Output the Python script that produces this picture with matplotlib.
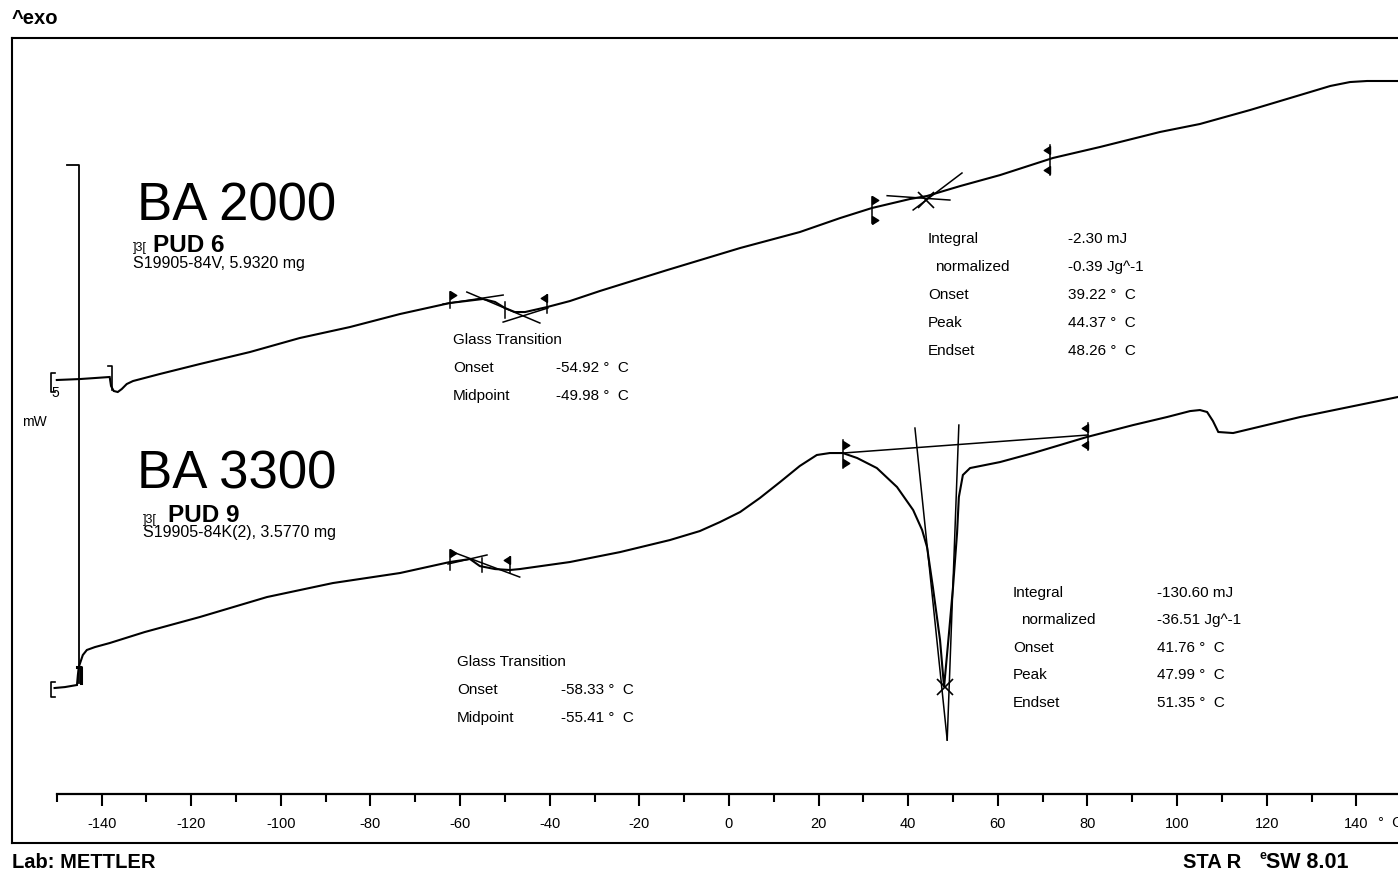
import matplotlib
matplotlib.use('Agg')
import matplotlib.pyplot as plt
from matplotlib import font_manager

plt.rcParams['font.family'] = ['Liberation Sans', 'DejaVu Sans']
plt.rcParams['axes.unicode_minus'] = False

_names = {f.name for f in font_manager.fontManager.ttflist}
NARROW = ['Liberation Sans Narrow', 'Liberation Sans'] if 'Liberation Sans Narrow' in _names else ['Liberation Sans', 'DejaVu Sans']

# ---------------- data ----------------
# Curve 1: BA 2000 / PUD 6  (temperature in degC, heat flow in mW)
t1 = [-150.0, -144.9, -141.5, -138.2, -137.9, -137.3, -136.4, -135.5, -134.4, -133.0,
      -127.0, -118.1, -106.9, -95.8, -84.6, -73.4, -62.3, -54.9, -52.2, -50.0,
      -47.8, -45.5, -40.6, -35.5, -28.8, -13.8, 2.5, 15.8, 24.8, 31.9,
      40.4, 44.2, 47.1, 51.6, 60.5, 72.3, 82.8, 96.2, 105.1, 116.3,
      127.5, 134.2, 138.6, 142.4, 149.3]
hf1 = [2.925, 2.934, 2.944, 2.954, 2.867, 2.819, 2.809, 2.838, 2.886, 2.915,
       2.983, 3.079, 3.195, 3.330, 3.436, 3.562, 3.668, 3.707, 3.678, 3.620,
       3.581, 3.581, 3.629, 3.687, 3.784, 3.986, 4.199, 4.353, 4.488, 4.585,
       4.672, 4.701, 4.739, 4.797, 4.903, 5.068, 5.174, 5.319, 5.396, 5.531,
       5.676, 5.763, 5.801, 5.811, 5.811]

# Curve 2: BA 3300 / PUD 9
t2 = [-150.5, -148.2, -145.5, -145.3, -145.1, -144.2, -143.3, -141.5, -138.2, -130.4,
      -118.1, -103.1, -88.4, -73.4, -62.3, -57.8, -55.6, -52.2, -48.9, -46.7,
      -35.5, -24.3, -13.2, -6.5, -2.0, 2.5, 6.9, 11.4, 15.8, 19.6,
      22.5, 25.4, 28.6, 33.0, 37.5, 41.1, 43.1, 44.2, 45.5, 47.1,
      48.0, 49.1, 50.0, 50.9, 51.3, 52.2, 53.8, 60.5, 67.9, 79.9,
      90.2, 97.8, 102.9, 105.1, 106.7, 108.0, 109.2, 112.5, 127.5, 149.3]
hf2 = [-0.048, -0.039, -0.019, 0.077, 0.154, 0.270, 0.319, 0.347, 0.386, 0.492,
       0.637, 0.830, 0.965, 1.062, 1.168, 1.197, 1.129, 1.100, 1.091, 1.100,
       1.168, 1.264, 1.380, 1.467, 1.554, 1.651, 1.786, 1.940, 2.095, 2.201,
       2.220, 2.220, 2.172, 2.075, 1.892, 1.670, 1.477, 1.313, 0.927, 0.415,
       -0.039, 0.483, 0.927, 1.448, 1.795, 2.008, 2.075, 2.133, 2.220, 2.375,
       2.490, 2.568, 2.625, 2.635, 2.616, 2.529, 2.423, 2.413, 2.568, 2.761]

tick_major = [-140, -120, -100, -80, -60, -40, -20, 0, 20, 40, 60, 80, 100, 120, 140]
tick_labels = ['-140', '-120', '-100', '-80', '-60', '-40', '-20', '0', '20', '40',
               '60', '80', '100', '120', '140']
tick_minor = [-150, -130, -110, -90, -70, -50, -30, -10, 10, 30, 50, 70, 90, 110, 130]

# evaluation results
tg1_labels = ['Glass Transition', 'Onset', 'Midpoint']
tg1_values = ['', '-54.92 °  C', '-49.98 °  C']
tg2_labels = ['Glass Transition', 'Onset', 'Midpoint']
tg2_values = ['', '-58.33 °  C', '-55.41 °  C']
pk1_labels = ['Integral', 'normalized', 'Onset', 'Peak', 'Endset']
pk1_values = ['-2.30 mJ', '-0.39 Jg^-1', '39.22 °  C', '44.37 °  C', '48.26 °  C']
pk2_labels = ['Integral', 'normalized', 'Onset', 'Peak', 'Endset']
pk2_values = ['-130.60 mJ', '-36.51 Jg^-1', '41.76 °  C', '47.99 °  C', '51.35 °  C']

# ---------------- figure ----------------
W, H = 1398, 875
fig = plt.figure(figsize=(W / 100, H / 100), dpi=100)
fig.patch.set_facecolor('white')

XLIM = (-160.0, 149.3)
ax_l, ax_b = 12 / W, (H - 843) / H
ax_w, ax_h = 1 - ax_l, (843 - 38) / H
ax = fig.add_axes([ax_l, ax_b, ax_w, ax_h])
ax.set_xlim(*XLIM)
ax.set_ylim(-1.544, 6.226)
ax.set_xticks([])
ax.set_yticks([])
for s in ['left', 'top', 'bottom']:
    ax.spines[s].set_linewidth(1.5)
ax.spines['right'].set_visible(False)

# temperature axis inside the frame
ax2 = fig.add_axes([ax_l, (H - 794) / H, ax_w, 0.0001])
ax2.patch.set_visible(False)
for s in ['left', 'top', 'right']:
    ax2.spines[s].set_visible(False)
ax2.set_xlim(*XLIM)
ax2.spines['bottom'].set_linewidth(1.6)
ax2.spines['bottom'].set_bounds(-150, 149.3)
ax2.set_yticks([])
ax2.set_xticks(tick_major)
ax2.set_xticklabels(tick_labels)
ax2.set_xticks(tick_minor, minor=True)
ax2.tick_params(axis='x', which='major', direction='out', length=8.5, width=1.5,
                pad=8, labelsize=10.5)
ax2.tick_params(axis='x', which='minor', direction='out', length=5.5, width=1.5)
fig.text(1378 / W, 1 - 823 / H, '°  C', fontsize=10.5, ha='left', va='center')

LW = 1.5
ax.plot(t1, hf1, color='black', lw=LW, solid_joinstyle='miter')
ax.plot(t2, hf2, color='black', lw=LW, solid_joinstyle='miter')

# scale bar (5 mW)
ax.plot([-147.8, -145.1, -145.1], [5.0, 5.0, 0.0], color='black', lw=1.3)
ax.text(-150.4, 2.80, '5', fontsize=10, ha='center', va='center')
ax.text(-154.9, 2.52, 'mW', fontsize=10, ha='center', va='center')

# start/end brackets
def bracket(x, y0, y1, arm, lw=1.2):
    ax.plot([x + arm, x, x, x + arm], [y1, y1, y0, y0], color='black', lw=lw)

bracket(-151.3, 2.81, 2.99, 0.9)
ax.plot([-138.6, -137.7, -137.7], [3.06, 3.06, 2.83], color='black', lw=1.2)
bracket(-151.3, -0.135, 0.01, 0.9)
ax.plot([-145.5, -144.6, -144.6], [0.154, 0.154, 0.0], color='black', lw=2.2)

# evaluation constructions
ALW = 1.1
flag_r = [(0, -1), (1.6, 0), (0, 1), (0, -1)]
flag_l = [(0, -1), (-1.6, 0), (0, 1), (0, -1)]

def vtick(x, y0, y1):
    ax.plot([x, x], [y0, y1], color='black', lw=ALW)

def flag(x, y, right=True):
    ax.plot([x], [y], marker=flag_r if right else flag_l, markersize=9,
            color='black', linestyle='none')

def seg(xs, ys):
    ax.plot(xs, ys, color='black', lw=ALW)

# curve 1 glass transition
seg([-63.8, -50.4], [3.658, 3.745])
seg([-58.5, -42.2], [3.774, 3.475])
seg([-50.4, -40.4], [3.484, 3.620])
vtick(-62.3, 3.620, 3.774); flag(-62.3, 3.745, True)
vtick(-50.0, 3.523, 3.678)
vtick(-40.6, 3.571, 3.745); flag(-40.6, 3.716, False)

# curve 1 peak
vtick(31.9, 4.440, 4.691); flag(31.9, 4.662, True); flag(31.9, 4.469, True)
vtick(71.7, 4.903, 5.193); flag(71.7, 5.145, False); flag(71.7, 4.952, False)
seg([35.3, 49.3], [4.704, 4.662])
seg([41.1, 52.0], [4.566, 4.923])
ax.plot([44.0], [4.662], marker='x', markersize=11, mew=1.2, color='black')

# curve 2 glass transition
seg([-61.6, -46.7], [1.264, 1.023])
seg([-62.7, -54.0], [1.149, 1.236])
vtick(-62.3, 1.091, 1.284); flag(-62.3, 1.255, True)
vtick(-55.1, 1.071, 1.207)
vtick(-48.9, 1.062, 1.216); flag(-48.9, 1.187, False)

# curve 2 peak
seg([25.4, 80.1], [2.220, 2.394])
seg([41.5, 48.7], [2.461, -0.550])
seg([51.3, 48.7], [2.490, -0.550])
ax.plot([48.2], [-0.039], marker='x', markersize=12, mew=1.2, color='black')
vtick(25.4, 2.075, 2.346); flag(25.4, 2.297, True); flag(25.4, 2.124, True)
vtick(80.1, 2.249, 2.510); flag(80.1, 2.461, False); flag(80.1, 2.297, False)

# ---------------- texts ----------------
ax.text(-132.1, 4.469, 'BA 2000', fontsize=38, ha='left', va='baseline')
ax.text(-133.0, 4.17, ']3[', fontsize=9, ha='left', va='baseline', family=NARROW)
ax.text(-128.6, 4.160, 'PUD 6', fontsize=17.5, fontweight='bold', ha='left', va='baseline')
ax.text(-133.0, 4.006, 'S19905-84V, 5.9320 mg', fontsize=11.5, ha='left', va='baseline')

ax.text(-132.1, 1.882, 'BA 3300', fontsize=38, ha='left', va='baseline')
ax.text(-130.8, 1.544, ']3[', fontsize=9, ha='left', va='baseline', family=NARROW)
ax.text(-125.2, 1.554, 'PUD 9', fontsize=17.5, fontweight='bold', ha='left', va='baseline')
ax.text(-130.8, 1.409, 'S19905-84K(2), 3.5770 mg', fontsize=11.5, ha='left', va='baseline')

TS = 11
def block(x_lab, x_val, ys, labels, values, indent=None):
    for y, lab, val in zip(ys, labels, values):
        xl = indent if (indent is not None and lab == 'normalized') else x_lab
        ax.text(xl, y, lab, fontsize=TS, ha='left', va='center')
        if val:
            ax.text(x_val, y, val, fontsize=TS, ha='left', va='center')

block(-61.6, -38.6, [3.311, 3.041, 2.770], tg1_labels, tg1_values)
block(-60.7, -37.5, [0.203, -0.068, -0.338], tg2_labels, tg2_values)
block(44.4, 75.7, [4.286, 4.015, 3.745, 3.475, 3.205], pk1_labels, pk1_values, indent=46.0)
block(63.4, 95.5, [0.869, 0.608, 0.338, 0.077, -0.193], pk2_labels, pk2_values, indent=65.2)

fig.text(12 / W, 1 - 18 / H, '^exo', fontsize=14.5, fontweight='bold', ha='left', va='center',
         family=NARROW)
fig.text(12 / W, 1 - 862 / H, 'Lab: METTLER', fontsize=14.5, fontweight='bold', ha='left',
         va='center', family=NARROW)
fig.text(1183 / W, 1 - 862 / H, 'STA R', fontsize=14.5, fontweight='bold', ha='left',
         va='center', family=NARROW)
fig.text(1259 / W, 1 - 856 / H, 'e', fontsize=9, fontweight='bold', ha='left',
         va='center', family=NARROW)
fig.text(1266 / W, 1 - 862 / H, 'SW 8.01', fontsize=15.5, fontweight='bold', ha='left',
         va='center', family=NARROW)

fig.savefig('out.png', dpi=100, facecolor='white')
